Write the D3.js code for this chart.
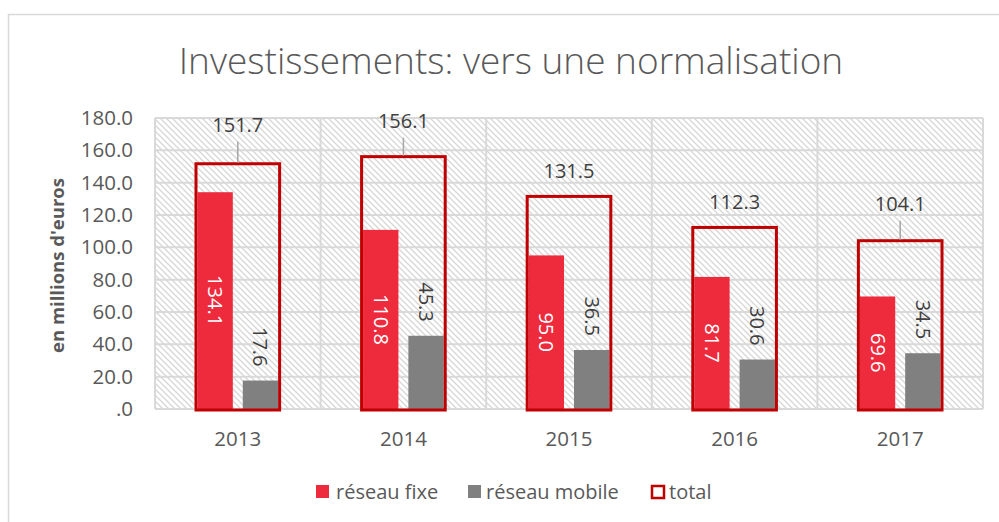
<!DOCTYPE html>
<meta charset="utf-8">
<style>
body { margin: 0; background: #fff; }
.chart text { font-family: "Open Sans", Lato, sans-serif; fill: #595959; }
.grid line { stroke: #d9d9d9; stroke-width: 2; }
</style>
<svg class="chart" width="999" height="522"></svg>
<script src="https://cdn.jsdelivr.net/npm/d3@7"></script>
<script>

// data
var years = ["2013", "2014", "2015", "2016", "2017"];
var fixe = [134.1, 110.8, 95.0, 81.7, 69.6];
var mobile = [17.6, 45.3, 36.5, 30.6, 34.5];
var total = [151.7, 156.1, 131.5, 112.3, 104.1];
var yTicks = [0, 20, 40, 60, 80, 100, 120, 140, 160, 180];

// how far the total labels were dragged above their box (layout, not data)
var totalLift = [39, 36, 25, 25, 37];

var red = "#ee2a3d", gray = "#808080", boxRed = "#c00000";

var svg = d3.select(".chart");

// outer chart border
svg.append("rect")
    .attr("x", 8.5).attr("y", 14.5)
    .attr("width", 1010).attr("height", 530)
    .attr("fill", "none").attr("stroke", "#d9d9d9").attr("stroke-width", 1.5);

var plotLeft = 155, plotRight = 983, plotTop = 118, plotBottom = 409;

var x = d3.scaleBand().domain(years).range([plotLeft, plotRight]);
var y = d3.scaleLinear().domain([0, 180]).range([plotBottom, plotTop]);

var boxW = x.bandwidth() * 0.505;
var inner = d3.scaleBand().domain(["fixe", "mobile"])
    .range([-boxW / 2 + 1.5, boxW / 2 - 1.5]).paddingInner(0.22);

// hatched plot background
var defs = svg.append("defs");
var pat = defs.append("pattern")
    .attr("id", "hatch").attr("patternUnits", "userSpaceOnUse")
    .attr("width", 6).attr("height", 6);
pat.append("path")
    .attr("d", "M0,0 L6,6 M-1,5 L1,7 M5,-1 L7,1")
    .attr("stroke", "#d6d6d6").attr("stroke-width", 1.3);

svg.append("rect")
    .attr("x", plotLeft).attr("y", plotTop)
    .attr("width", plotRight - plotLeft).attr("height", plotBottom - plotTop)
    .attr("fill", "url(#hatch)");

// gridlines
var grid = svg.append("g").attr("class", "grid");
grid.selectAll(".h").data(yTicks).enter().append("line")
    .attr("x1", plotLeft).attr("x2", plotRight)
    .attr("y1", function(d) { return y(d); })
    .attr("y2", function(d) { return y(d); });
grid.selectAll(".v").data(years.concat(["end"])).enter().append("line")
    .attr("x1", function(d, i) { return i < years.length ? x(d) : plotRight; })
    .attr("x2", function(d, i) { return i < years.length ? x(d) : plotRight; })
    .attr("y1", plotTop).attr("y2", plotBottom);

// y axis
var fmt = d3.format(".1f");
var yAxis = d3.axisLeft(y).tickValues(yTicks)
    .tickFormat(function(d) { return d === 0 ? ".0" : fmt(d); })
    .tickSize(0).tickPadding(0);
svg.append("g")
    .attr("transform", "translate(133,0)")
    .call(yAxis)
    .call(function(g) { g.select(".domain").remove(); })
    .selectAll("text")
    .style("font-size", "20.5px").attr("fill", "#595959");

svg.append("text")
    .attr("transform", "translate(64," + ((plotTop + plotBottom) / 2 + 2) + ") rotate(-90)")
    .attr("text-anchor", "middle")
    .style("font-size", "18.5px").style("font-weight", "bold")
    .text("en millions d'euros");

// x axis
var xAxis = d3.axisBottom(x).tickSize(0).tickPadding(0);
svg.append("g")
    .attr("transform", "translate(0," + (plotBottom + 22) + ")")
    .call(xAxis)
    .call(function(g) { g.select(".domain").remove(); })
    .selectAll("text")
    .style("font-size", "20.5px").attr("fill", "#595959");

// bars
var groups = svg.selectAll(".year").data(years).enter().append("g")
    .attr("class", "year")
    .attr("transform", function(d) { return "translate(" + (x(d) + x.bandwidth() / 2) + ",0)"; });

groups.append("rect")
    .attr("x", inner("fixe"))
    .attr("width", inner.bandwidth())
    .attr("y", function(d, i) { return y(fixe[i]); })
    .attr("height", function(d, i) { return plotBottom - y(fixe[i]); })
    .attr("fill", red);

groups.append("rect")
    .attr("x", inner("mobile"))
    .attr("width", inner.bandwidth())
    .attr("y", function(d, i) { return y(mobile[i]); })
    .attr("height", function(d, i) { return plotBottom - y(mobile[i]); })
    .attr("fill", gray);

groups.append("rect")
    .attr("x", -boxW / 2)
    .attr("width", boxW)
    .attr("y", function(d, i) { return y(total[i]); })
    .attr("height", function(d, i) { return plotBottom + 1 - y(total[i]); })
    .attr("fill", "none").attr("stroke", boxRed).attr("stroke-width", 3);

// value labels
groups.append("text")
    .attr("transform", function(d, i) {
      var cx = inner("fixe") + inner.bandwidth() / 2;
      var cy = (y(fixe[i]) + plotBottom) / 2;
      return "translate(" + cx + "," + cy + ") rotate(90)";
    })
    .attr("text-anchor", "middle").attr("dy", "0.35em")
    .style("font-size", "20px").style("fill", "#fff")
    .text(function(d, i) { return fmt(fixe[i]); });

groups.append("text")
    .attr("transform", function(d, i) {
      var cx = inner("mobile") + inner.bandwidth() / 2;
      return "translate(" + cx + "," + (y(mobile[i]) - 14) + ") rotate(90)";
    })
    .attr("text-anchor", "end").attr("dy", "0.35em")
    .style("font-size", "20px").style("fill", "#404040")
    .text(function(d, i) { return fmt(mobile[i]); });

groups.append("text")
    .attr("x", 0)
    .attr("y", function(d, i) { return y(total[i]) - totalLift[i]; })
    .attr("text-anchor", "middle").attr("dy", "0.35em")
    .style("font-size", "20px").style("fill", "#404040")
    .text(function(d, i) { return fmt(total[i]); });

// leader lines for labels dragged far from their box
groups.filter(function(d, i) { return totalLift[i] > 30; })
  .append("line")
    .attr("x1", 0).attr("x2", 0)
    .attr("y1", function(d) { var i = years.indexOf(d); return y(total[i]) - totalLift[i] + 17; })
    .attr("y2", function(d) { var i = years.indexOf(d); return y(total[i]) - 1; })
    .attr("stroke", "#a6a6a6").attr("stroke-width", 1.5);

// title
svg.append("text")
    .attr("x", 511).attr("y", 74)
    .attr("text-anchor", "middle")
    .style("font-size", "37px").style("font-weight", 300)
    .text("Investissements: vers une normalisation");

// legend
var legendItems = [
  {label: "réseau fixe", kind: "fixe"},
  {label: "réseau mobile", kind: "mobile"},
  {label: "total", kind: "total"}
];
var legendX = [316, 468, 651];
var legend = svg.selectAll(".legend").data(legendItems).enter().append("g")
    .attr("class", "legend")
    .attr("transform", function(d, i) { return "translate(" + legendX[i] + ",492)"; });

legend.append("rect")
    .attr("x", function(d) { return d.kind === "total" ? 1 : 0; })
    .attr("y", function(d) { return d.kind === "total" ? -6 : -7; })
    .attr("width", function(d) { return d.kind === "total" ? 12 : 13; })
    .attr("height", function(d) { return d.kind === "total" ? 12 : 13; })
    .attr("fill", function(d) { return d.kind === "fixe" ? red : d.kind === "mobile" ? gray : "none"; })
    .attr("stroke", function(d) { return d.kind === "total" ? boxRed : "none"; })
    .attr("stroke-width", 2.5);

legend.append("text")
    .attr("x", function(d) { return d.kind === "fixe" ? 20 : 18; })
    .attr("dy", "0.35em")
    .style("font-size", "20px")
    .text(function(d) { return d.label; });

</script>
